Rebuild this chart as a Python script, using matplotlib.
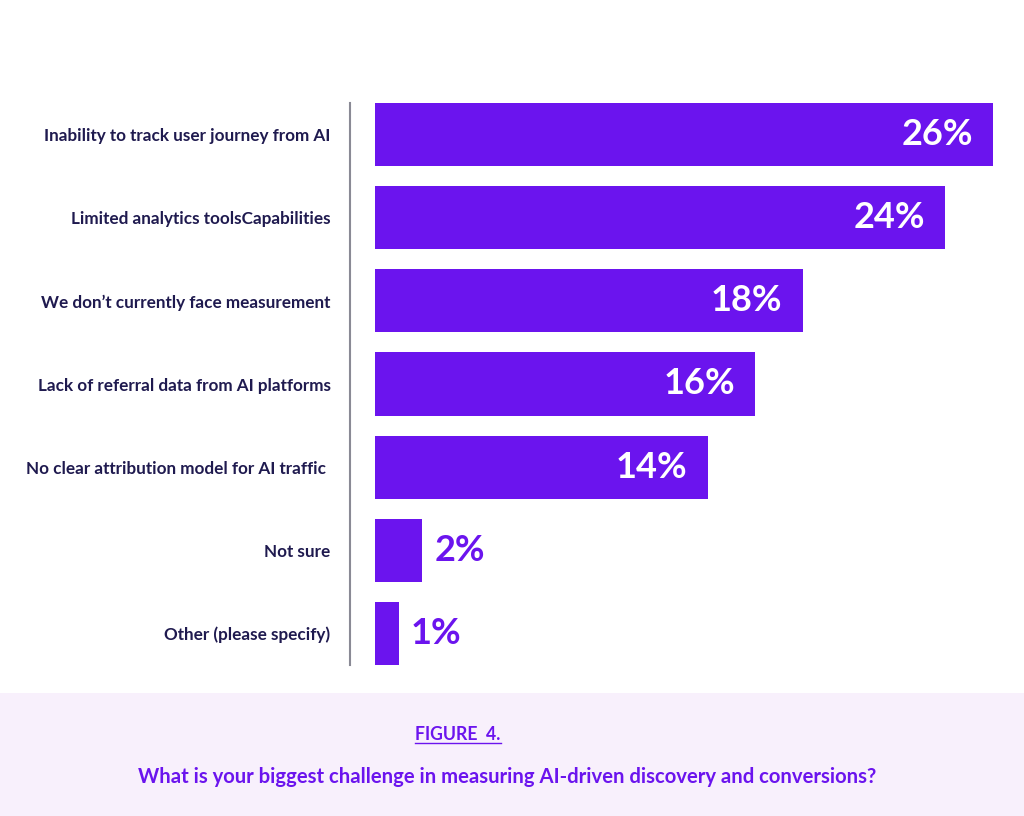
import matplotlib.pyplot as plt
from matplotlib.patches import Rectangle

categories = [
    "Inability to track user journey from AI",
    "Limited analytics toolsCapabilities",
    "We don\u2019t currently face measurement",
    "Lack of referral data from AI platforms",
    "No clear attribution model for AI traffic ",
    "Not sure",
    "Other (please specify)",
]
values = [26, 24, 18, 16, 14, 2, 1]
labels = ["26%", "24%", "18%", "16%", "14%", "2%", "1%"]

W, H = 1024, 816
bar_color = "#6b14ee"
text_dark = "#1f1a4f"

plt.rcParams['font.family'] = ['Lato', 'DejaVu Sans']

fig = plt.figure(figsize=(W / 100, H / 100), dpi=100)
fig.patch.set_facecolor("white")

# footer band
fig.add_artist(Rectangle((0, 0), 1, (H - 693) / H, transform=fig.transFigure,
                         facecolor="#f8f0fc", edgecolor="none", zorder=0))

ax = fig.add_axes([350 / W, 1 - 665 / H, (1010 - 350) / W, (665 - 103) / H])
ax.set_facecolor("none")

ypos = list(range(len(values)))
ax.barh(ypos, values, height=0.76, color=bar_color, zorder=2)
ax.set_xlim(-1.05, 26.72)
ax.set_ylim(6.38, -0.38)

for y, v, lab in zip(ypos, values, labels):
    if v >= 5:
        ax.text(v - 0.85, y, lab, ha="right", va="center", color="white",
                fontsize=26, fontweight="bold")
    else:
        ax.text(v + 0.5, y, lab, ha="left", va="center", color=bar_color,
                fontsize=26, fontweight="bold")

ax.set_yticks(ypos)
ax.set_yticklabels(categories, fontsize=12.3, fontweight="bold", color=text_dark)
ax.tick_params(axis="y", length=0, pad=14)
ax.set_xticks([])
for s in ["top", "right", "bottom"]:
    ax.spines[s].set_visible(False)
ax.spines["left"].set_color("#8a8a95")
ax.spines["left"].set_linewidth(1.5)

fig.text(458 / W, 1 - 734 / H, "FIGURE  4.", ha="center", va="center",
         color=bar_color, fontsize=12.7, fontweight="bold")
fig.add_artist(plt.Line2D([415 / W, 501 / W], [1 - 743 / H, 1 - 743 / H],
                          transform=fig.transFigure, color=bar_color, lw=1))
fig.text(507 / W, 1 - 777 / H,
         "What is your biggest challenge in measuring AI-driven discovery and conversions?",
         ha="center", va="center", color=bar_color, fontsize=14.6, fontweight="bold")

fig.savefig("out.png", dpi=100)
